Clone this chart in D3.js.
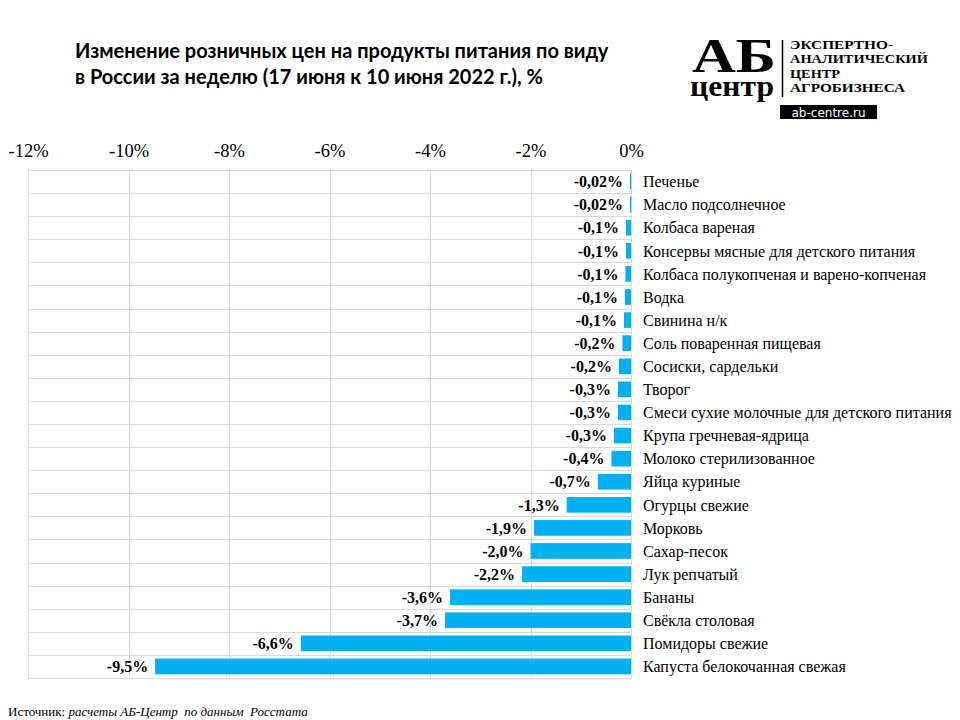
<!DOCTYPE html>
<html lang="ru">
<head>
  <meta charset="UTF-8" />
  <title>Изменение розничных цен</title>
  <script src="https://d3js.org/d3.v7.min.js"></script>
  <style>
    body { margin: 0; background: #fff; }
    svg { display: block; }
  </style>
</head>
<body>
<div id="chart"></div>
<script>
  // categories top to bottom
  var products = [
    "Печенье", "Масло подсолнечное", "Колбаса вареная",
    "Консервы мясные для детского питания", "Колбаса полукопченая и варено-копченая",
    "Водка", "Свинина н/к", "Соль поваренная пищевая", "Сосиски, сардельки",
    "Творог", "Смеси сухие молочные для детского питания", "Крупа гречневая-ядрица",
    "Молоко стерилизованное", "Яйца куриные", "Огурцы свежие", "Морковь",
    "Сахар-песок", "Лук репчатый", "Бананы", "Свёкла столовая",
    "Помидоры свежие", "Капуста белокочанная свежая"
  ];
  // weekly change, %
  var changes = [
    -0.02, -0.02, -0.1, -0.1, -0.11, -0.12, -0.14, -0.17, -0.24,
    -0.26, -0.26, -0.34, -0.39, -0.66, -1.28, -1.93,
    -2.0, -2.17, -3.6, -3.7, -6.57, -9.47
  ];
  var changeLabels = [
    "-0,02%", "-0,02%", "-0,1%", "-0,1%", "-0,1%", "-0,1%", "-0,1%", "-0,2%", "-0,2%",
    "-0,3%", "-0,3%", "-0,3%", "-0,4%", "-0,7%", "-1,3%", "-1,9%",
    "-2,0%", "-2,2%", "-3,6%", "-3,7%", "-6,6%", "-9,5%"
  ];
  var ticks = [-12, -10, -8, -6, -4, -2, 0];

  var w = 960, h = 720;
  var serif = "'Liberation Serif', 'Times New Roman', serif";

  var svg = d3.select("#chart").append("svg")
    .attr("width", w)
    .attr("height", h);

  var x = d3.scaleLinear().domain([-12, 0]).range([28, 631]);
  var y = d3.scaleBand().domain(products).range([170, 678])
    .paddingInner(0.32).paddingOuter(0.16);
  var step = y.step();

  // grid
  var grid = svg.append("g").attr("stroke", "#d9d9d9").attr("stroke-width", 1);
  grid.selectAll("line.v")
    .data(ticks)
    .enter()
    .append("line")
    .attr("class", "v")
    .attr("x1", function(d) { return Math.round(x(d)) + 0.5; })
    .attr("x2", function(d) { return Math.round(x(d)) + 0.5; })
    .attr("y1", y.range()[0])
    .attr("y2", y.range()[1]);
  grid.selectAll("line.h")
    .data(d3.range(products.length + 1))
    .enter()
    .append("line")
    .attr("class", "h")
    .attr("x1", x(-12))
    .attr("x2", x(0))
    .attr("y1", function(i) { return Math.round(y.range()[0] + i * step) + 0.5; })
    .attr("y2", function(i) { return Math.round(y.range()[0] + i * step) + 0.5; });

  // tick labels on top
  var axis = d3.axisTop(x)
    .tickValues(ticks)
    .tickSize(0)
    .tickPadding(0)
    .tickFormat(function(d) { return d + "%"; });
  var ax = svg.append("g")
    .attr("transform", "translate(0,157)")
    .call(axis);
  ax.select(".domain").remove();
  ax.attr("font-family", null).attr("font-size", null);
  ax.selectAll("text")
    .attr("dy", 0)
    .style("font-family", serif)
    .style("font-size", "18.5px")
    .attr("fill", "#000");

  // bars
  svg.selectAll("rect.bar")
    .data(changes)
    .enter()
    .append("rect")
    .attr("class", "bar")
    .attr("x", function(d) { return x(d); })
    .attr("y", function(d, i) { return y(products[i]); })
    .attr("width", function(d) { return Math.max(1.2, x(0) - x(d)); })
    .attr("height", y.bandwidth())
    .attr("fill", "#00b0f0");

  // value labels
  svg.selectAll("text.val")
    .data(changes)
    .enter()
    .append("text")
    .attr("class", "val")
    .attr("x", function(d) { return x(d) - 7; })
    .attr("y", function(d, i) { return y(products[i]) + y.bandwidth() / 2; })
    .attr("dy", "0.36em")
    .attr("text-anchor", "end")
    .style("font-family", serif)
    .style("font-size", "16px")
    .style("font-weight", "bold")
    .text(function(d, i) { return changeLabels[i]; });

  // category labels
  svg.selectAll("text.cat")
    .data(products)
    .enter()
    .append("text")
    .attr("class", "cat")
    .attr("x", 643)
    .attr("y", function(d) { return y(d) + y.bandwidth() / 2; })
    .attr("dy", "0.36em")
    .style("font-family", serif)
    .style("font-size", "16px")
    .text(function(d) { return d; });

  // title
  var title = svg.append("g")
    .style("font-family", "Lato, 'Open Sans', sans-serif")
    .style("font-weight", "bold")
    .style("font-size", "20px");
  title.append("text").attr("x", 75).attr("y", 58)
    .text("Изменение розничных цен на продукты питания по виду");
  title.append("text").attr("x", 75).attr("y", 84)
    .text("в России за неделю (17 июня к 10 июня 2022 г.), %");

  // logo
  var logo = svg.append("g");
  logo.append("text").attr("x", 692).attr("y", 72)
    .style("font-family", serif).style("font-weight", "bold")
    .style("font-size", "48px")
    .attr("textLength", 84).attr("lengthAdjust", "spacingAndGlyphs")
    .text("АБ");
  logo.append("text").attr("x", 690).attr("y", 96)
    .style("font-family", serif).style("font-weight", "bold")
    .style("font-size", "30px")
    .attr("textLength", 84).attr("lengthAdjust", "spacingAndGlyphs")
    .text("центр");
  logo.append("line")
    .attr("x1", 782.5).attr("x2", 782.5).attr("y1", 40).attr("y2", 97)
    .attr("stroke", "#000").attr("stroke-width", 1.5);
  var logoLines = ["ЭКСПЕРТНО-", "АНАЛИТИЧЕСКИЙ", "ЦЕНТР", "АГРОБИЗНЕСА"];
  var logoWidths = [103, 138, 50, 115];
  logo.selectAll("text.ll")
    .data(logoLines)
    .enter()
    .append("text")
    .attr("class", "ll")
    .attr("x", 790)
    .attr("y", function(d, i) { return 48.5 + i * 14.6; })
    .attr("textLength", function(d, i) { return logoWidths[i]; })
    .attr("lengthAdjust", "spacingAndGlyphs")
    .style("font-family", serif).style("font-weight", "bold")
    .style("font-size", "12.5px")
    .text(function(d) { return d; });
  logo.append("rect")
    .attr("x", 780).attr("y", 105).attr("width", 97).attr("height", 14)
    .attr("fill", "#000");
  logo.append("text").attr("x", 828.5).attr("y", 116.5)
    .attr("text-anchor", "middle")
    .style("font-family", "'DejaVu Sans', sans-serif")
    .style("font-size", "12px").attr("fill", "#fff")
    .text("ab-centre.ru");

  // source
  var src = svg.append("text").attr("x", 8).attr("y", 716)
    .style("font-family", serif).style("font-size", "13px")
    .style("white-space", "pre");
  src.append("tspan").text("Источник: ");
  src.append("tspan").style("font-style", "italic")
    .text("расчеты АБ-Центр  по данным  Росстата");
</script>
</body>
</html>
